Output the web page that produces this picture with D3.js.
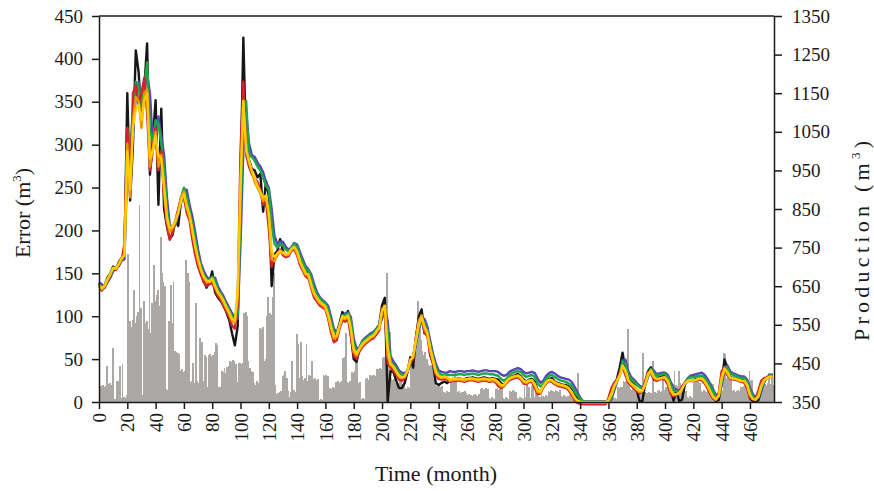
<!DOCTYPE html>
<html>
<head>
<meta charset="utf-8">
<script src="https://cdn.jsdelivr.net/npm/d3@7"></script>
<style>
body { margin: 0; background: #fff; }
svg { display: block; font-family: "Liberation Serif", "DejaVu Serif", serif; }
</style>
</head>
<body>
<div id="chart"></div>
<script>
// error (m3), one bar per month, months 0..476
const errorBars = [
  19,19,20,18,19,42,21,22,20,63,3,4,25,24,42,5,44,6,5,8,
  173,95,88,96,130,92,100,105,230,110,8,118,92,95,85,280,80,115,160,118,
  125,130,112,192,150,140,135,15,14,95,136,92,140,60,58,57,56,36,38,35,
  36,165,150,140,23,25,45,22,115,24,22,75,70,24,55,52,17,55,56,54,
  55,58,69,66,17,18,36,35,40,34,41,42,48,47,49,48,44,23,45,46,
  44,45,104,105,100,48,40,36,35,22,20,24,22,86,85,88,48,50,100,122,
  104,102,122,150,20,9,10,12,13,30,32,36,28,13,6,12,48,14,12,79,
  68,28,70,30,26,28,68,25,31,30,48,27,28,26,27,2,3,2,31,30,
  31,30,16,16,15,17,16,23,24,22,23,24,51,52,80,23,22,24,35,34,
  36,51,50,22,23,4,5,4,27,28,26,31,30,32,31,30,39,38,40,39,
  51,52,50,150,85,82,28,26,27,22,25,20,24,27,21,23,16,15,17,16,
  43,42,44,70,72,118,95,72,60,55,58,50,44,42,43,44,43,44,19,19,
  20,18,19,12,11,13,12,12,27,28,26,36,27,12,13,11,12,12,13,11,
  8,9,8,7,8,9,8,7,9,15,16,14,15,16,15,5,4,6,5,4,
  15,16,14,15,16,5,4,6,5,4,13,12,14,13,12,5,4,6,5,4,
  19,6,20,18,5,19,20,6,18,19,7,6,8,7,6,8,7,13,12,14,
  13,12,14,13,12,14,7,6,8,7,6,7,8,5,4,5,6,5,34,5,
  4,2,1,0,1,0,1,1,0,1,0,1,0,1,1,0,1,0,1,0,
  1,5,4,6,5,4,17,16,18,17,24,23,25,85,20,15,14,16,15,14,
  12,13,12,11,57,12,11,10,12,11,10,48,12,11,13,14,12,13,30,14,
  17,18,21,20,22,21,36,20,19,36,22,13,12,14,13,6,5,7,6,5,
  24,23,25,24,22,13,12,14,13,12,21,20,22,21,9,8,10,9,8,12,
  13,57,56,28,29,27,28,13,14,12,13,14,13,18,17,19,18,17,25,36,
  24,26,9,8,10,9,8,17,16,18,21,20,22,34,21,33,20
];

// production (m3), every second month 0..476
const observed = [
  657,639,652,672,683,701,694,712,723,732,
  1150,872,1017,1261,1205,1083,1161,1279,939,1028,
  1132,861,1110,850,805,772,783,821,806,872,
  901,857,843,794,754,717,683,666,646,661,
  688,634,621,612,599,583,563,528,497,546,
  906,1294,999,977,954,950,932,941,843,923,
  883,650,732,741,772,741,728,732,750,759,
  737,717,701,683,688,657,630,617,608,603,
  599,572,537,514,528,554,583,568,586,523,
  461,454,488,501,506,514,523,523,537,550,
  600,620,350,430,428,406,386,386,399,428,
  466,439,517,572,590,528,543,472,450,399,
  394,399,403,399,406,410,408,412,410,408,
  412,412,414,412,410,412,414,412,410,412,
  410,408,399,394,403,412,417,419,423,417,
  408,403,408,410,403,381,377,390,403,410,
  412,403,399,397,394,394,390,381,368,359,
  352,350,350,350,350,350,350,350,350,350,
  352,370,392,410,440,478,430,412,405,395,
  380,352,352,400,430,440,420,410,414,416,
  418,412,385,353,380,352,356,395,405,408,
  406,410,412,414,412,400,388,370,352,356,
  400,460,440,415,412,414,408,406,410,400,
  360,352,351,355,380,405,412,418,418
];

const modelRed = [
  650,640,648,665,678,695,692,705,718,760,
  1060,900,1150,1170,1120,1150,1190,1100,950,1000,
  1060,950,1000,880,810,770,790,820,850,880,
  880,840,820,770,730,700,680,660,650,655,
  660,640,625,615,600,585,570,548,540,600,
  1000,1180,990,960,940,930,920,900,860,870,
  800,700,720,735,745,730,725,728,742,745,
  730,705,690,675,670,645,620,610,600,595,
  590,565,530,505,510,540,562,558,565,520,
  470,462,480,492,500,506,512,515,525,535,
  580,590,450,440,430,420,408,405,410,430,
  455,460,520,560,565,530,520,475,450,420,
  410,408,410,408,402,404,404,406,404,402,
  405,406,406,404,402,404,406,404,402,404,
  402,392,386,390,400,406,410,412,414,408,
  398,396,402,402,385,370,372,388,398,404,
  402,396,392,390,388,386,380,368,355,348,
  345,344,344,344,344,344,344,344,344,344,
  360,385,400,408,425,440,420,400,392,385,
  378,372,380,405,428,425,408,405,408,410,
  408,395,370,365,368,372,390,400,404,404,
  404,406,408,406,398,385,370,358,356,375,
  430,440,420,410,408,408,404,402,400,385,
  362,356,358,380,405,412,412,414,415
];

const modelOrange = [
  652,642,650,668,680,697,695,708,720,735,
  1020,880,1080,1140,1130,1060,1150,1160,960,1010,
  1050,960,990,900,820,790,800,815,845,880,
  895,850,830,790,750,715,690,672,660,660,
  668,648,632,622,608,592,578,560,555,620,
  930,1130,1010,970,945,920,905,890,870,880,
  830,720,715,730,740,735,730,732,745,750,
  735,712,695,680,675,650,628,615,606,600,
  594,572,540,515,518,545,570,565,572,535,
  480,470,485,497,504,510,516,520,530,540,
  590,600,470,445,440,428,415,412,415,432,
  460,465,515,560,575,540,525,485,455,425,
  415,412,414,412,405,407,407,409,407,405,
  408,409,409,407,405,407,409,407,405,407,
  405,398,390,392,402,409,413,415,417,411,
  402,399,404,405,392,375,374,390,400,406,
  405,399,395,393,391,389,384,373,360,352,
  350,348,348,348,348,348,348,348,348,348,
  355,372,392,405,420,442,428,405,396,390,
  382,376,378,398,424,430,414,408,410,412,
  412,402,378,368,370,372,385,398,404,406,
  405,407,410,410,402,390,376,362,356,368,
  415,438,425,412,410,410,406,404,404,392,
  368,358,356,368,395,408,412,415,416
];

const modelYellow = [
  654,644,652,668,682,698,696,708,722,730,
  1000,900,1060,1110,1120,1080,1130,1150,980,1000,
  1040,990,980,910,830,800,805,820,840,870,
  890,860,835,795,755,720,695,675,665,662,
  670,652,635,625,612,597,582,565,560,640,
  900,1130,1000,975,950,930,910,895,880,885,
  840,740,725,735,742,738,732,735,747,752,
  740,716,698,684,680,655,632,620,610,604,
  598,576,545,520,522,548,572,568,575,540,
  486,475,488,500,507,513,519,523,533,543,
  585,598,490,450,442,430,418,414,416,430,
  458,468,510,550,570,545,530,490,460,430,
  418,414,416,414,408,410,410,411,410,408,
  410,411,411,410,408,410,411,410,408,410,
  408,402,394,394,404,411,415,417,419,414,
  405,402,406,407,396,380,377,392,402,408,
  407,401,397,395,393,391,386,376,363,354,
  351,350,350,350,350,350,350,350,350,350,
  354,368,390,404,418,445,432,408,398,392,
  384,378,379,396,420,432,416,410,411,413,
  414,405,382,370,371,373,384,398,405,407,
  406,408,411,411,404,392,378,364,357,366,
  410,436,428,414,411,411,407,405,405,395,
  370,358,356,365,390,406,411,415,416
];

const modelGreen = [
  655,648,645,662,676,692,698,705,720,735,
  1060,1000,1100,1180,1170,1110,1170,1230,1050,1030,
  1080,1070,1020,950,850,800,790,820,845,880,
  905,880,845,810,770,730,700,680,668,665,
  675,665,642,630,618,600,588,572,560,580,
  820,1110,1130,990,985,975,960,950,930,910,
  900,810,760,750,760,755,745,740,748,760,
  752,728,712,695,690,672,645,628,618,610,
  605,590,560,532,528,548,575,575,580,560,
  500,480,490,505,512,518,524,528,538,548,
  575,595,530,455,448,438,426,420,420,428,
  450,470,505,545,565,555,535,500,465,440,
  425,420,420,420,420,420,420,422,422,420,
  422,422,424,422,420,422,424,424,422,422,
  420,418,410,405,410,420,425,428,430,428,
  420,415,418,420,415,398,390,398,410,418,
  420,415,410,406,404,402,398,392,380,368,
  358,351,351,351,351,351,351,351,351,351,
  352,360,385,405,422,455,448,420,410,402,
  395,388,385,395,420,436,425,418,420,422,
  422,415,395,380,378,378,385,400,410,414,
  414,416,418,418,412,402,390,376,364,365,
  400,440,440,424,420,418,414,412,412,402,
  380,364,358,362,385,405,414,418,420
];

const modelBlue = [
  660,655,648,660,672,688,698,702,716,720,
  960,1020,1050,1140,1180,1130,1150,1200,1150,1020,
  1060,1090,1040,990,880,810,800,810,835,865,
  900,900,860,830,790,745,710,690,675,668,
  672,672,650,636,624,608,594,580,570,565,
  760,1000,1100,1020,990,985,970,960,945,920,
  905,850,780,760,765,765,752,745,750,762,
  758,738,720,702,694,680,655,635,622,614,
  608,598,570,540,530,545,572,580,582,570,
  515,488,492,508,516,522,528,532,540,550,
  565,590,560,470,455,445,432,426,425,430,
  448,465,500,540,560,565,545,510,475,450,
  432,428,426,426,430,428,428,430,430,428,
  430,430,432,430,428,430,432,432,430,430,
  430,428,422,418,420,428,432,435,438,435,
  428,424,426,428,425,410,400,405,418,425,
  428,424,418,414,412,410,408,402,390,376,
  362,352,352,352,352,352,352,352,352,352,
  352,356,378,402,420,458,460,430,415,408,
  400,392,388,394,415,435,432,422,424,426,
  426,420,402,386,382,380,386,400,412,418,
  420,422,424,426,420,410,396,382,368,366,
  392,432,445,430,424,422,418,416,416,408,
  388,370,360,360,378,400,414,420,422
];

const monthTicks = d3.range(0, 461, 20);
const errorTicks = d3.range(0, 451, 50);
const productionTicks = d3.range(350, 1351, 100);

const series = [
  {name: 'observed', color: '#161616', values: observed},
  {name: 'blue', color: '#5446b4', values: modelBlue},
  {name: 'green', color: '#1ea64a', values: modelGreen},
  {name: 'red', color: '#d2232a', values: modelRed},
  {name: 'orange', color: '#f39200', values: modelOrange},
  {name: 'yellow', color: '#ffcc00', values: modelYellow}
];

function chart() {
	const totalWidth = 874;
	const totalHeight = 491;
	const margin = {top: 16, right: 100, bottom: 89, left: 99};
	const width = totalWidth - margin.left - margin.right;
	const height = totalHeight - margin.top - margin.bottom;
	const fontSize = 19;
	const titleSize = 22;

	const svg = d3.select('#chart')
		.append('svg')
		.attr('width', totalWidth)
		.attr('height', totalHeight);

	const g = svg.append('g')
		.attr('transform', `translate(${margin.left}, ${margin.top})`);

	const x = d3.scaleLinear().domain([0, 477]).range([0, width]);
	const yError = d3.scaleLinear().domain([0, 450]).range([height, 0]);
	const yProd = d3.scaleLinear().domain([350, 1350]).range([height, 0]);

	// error bars, one per month
	const step = x(1) - x(0);
	g.append('g')
		.attr('shape-rendering', 'crispEdges')
		.selectAll('rect')
		.data(errorBars)
		.join('rect')
		.attr('x', (d, i) => x(i))
		.attr('width', step + 0.4)
		.attr('y', d => yError(d))
		.attr('height', d => height - yError(d))
		.attr('fill', '#aca8a5');

	// production lines, every second month
	const line = d3.line()
		.x((d, i) => x(i * 2))
		.y(d => yProd(d));

	g.append('g')
		.selectAll('path')
		.data(series)
		.join('path')
		.attr('d', d => line(d.values))
		.attr('fill', 'none')
		.attr('stroke', d => d.color)
		.attr('stroke-width', 2.4)
		.attr('stroke-linejoin', 'round');

	// axes
	function styleAxis(sel) {
		sel.selectAll('path.domain').attr('stroke', '#1a1a1a').attr('stroke-width', 1.5);
		sel.selectAll('.tick line').attr('stroke', '#1a1a1a').attr('stroke-width', 1.5);
		sel.selectAll('.tick text')
			.attr('fill', '#1a1a1a')
			.style('font-size', fontSize + 'px')
			.style('font-family', '"Liberation Serif", "DejaVu Serif", serif');
	}

	g.append('g')
		.call(d3.axisLeft(yError).tickValues(errorTicks).tickSize(7).tickSizeOuter(0).tickPadding(9))
		.call(styleAxis);

	g.append('g')
		.attr('transform', `translate(${width}, 0)`)
		.call(d3.axisRight(yProd).tickValues(productionTicks).tickFormat(d3.format('d'))
			.tickSize(8).tickSizeOuter(0).tickPadding(10))
		.call(styleAxis);

	const xAxis = g.append('g')
		.attr('transform', `translate(0, ${height})`)
		.call(d3.axisBottom(x).tickValues(monthTicks).tickSize(7).tickSizeOuter(0))
		.call(styleAxis);

	xAxis.selectAll('.tick text')
		.attr('transform', 'rotate(-90)')
		.attr('text-anchor', 'end')
		.attr('x', -11)
		.attr('y', 0)
		.attr('dy', '0.35em');

	// top border
	g.append('line')
		.attr('x1', 0).attr('x2', width)
		.attr('y1', 0).attr('y2', 0)
		.attr('stroke', '#1a1a1a')
		.attr('stroke-width', 1.5);

	// axis titles
	function title(sel, label) {
		sel.attr('text-anchor', 'middle')
			.attr('fill', '#1a1a1a')
			.style('font-size', titleSize + 'px');
		sel.append('tspan').text(label + ' (m');
		sel.append('tspan').attr('dy', -9).style('font-size', '13px').text('3');
		sel.append('tspan').attr('dy', 9).text(')');
	}

	svg.append('text')
		.attr('transform', 'translate(30, 213) rotate(-90)')
		.call(title, 'Error');

	svg.append('text')
		.attr('transform', 'translate(869, 241) rotate(-90)')
		.attr('textLength', 200)
		.attr('lengthAdjust', 'spacing')
		.call(title, 'Production');

	svg.append('text')
		.attr('x', 436)
		.attr('y', 481)
		.attr('text-anchor', 'middle')
		.attr('fill', '#1a1a1a')
		.style('font-size', titleSize + 'px')
		.text('Time (month)');
}

chart();
</script>
</body>
</html>
